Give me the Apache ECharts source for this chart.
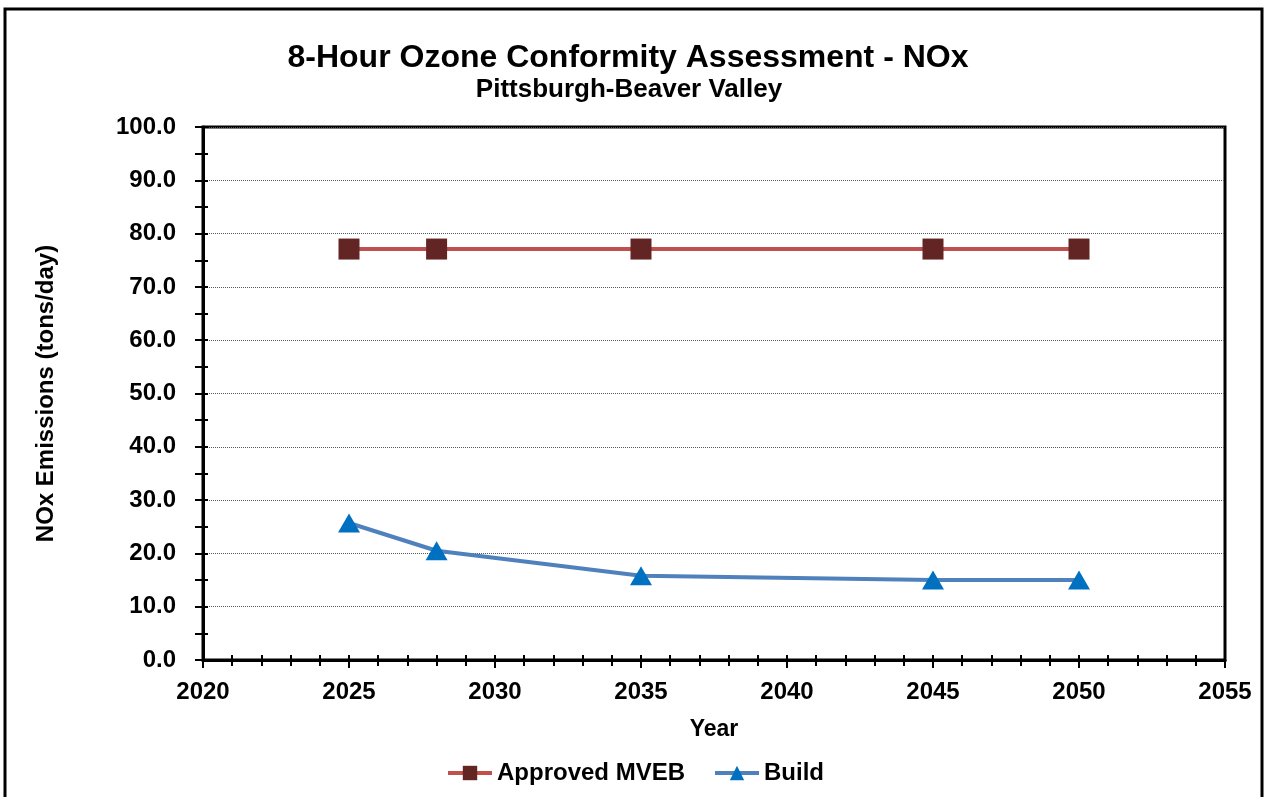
<!DOCTYPE html>
<html><head><meta charset="utf-8">
<script src="https://cdn.jsdelivr.net/npm/echarts@6/dist/echarts.min.js"></script>
<style>html,body{margin:0;padding:0;background:#fff}#c{width:1270px;height:797px}</style>
</head><body><div id="c"></div>
<script>
const years = [2025, 2028, 2035, 2045, 2050];
const mvebValues = [77.1, 77.1, 77.1, 77.1, 77.1];
const buildValues = [25.7, 20.5, 15.8, 15.0, 15.0];
const seriesNames = ['Approved MVEB', 'Build'];
const titleText = '8-Hour Ozone Conformity Assessment - NOx';
const subtitleText = 'Pittsburgh-Beaver Valley';
const xName = 'Year';
const yName = 'NOx Emissions (tons/day)';

const font = 'Liberation Sans, Arial, sans-serif';
const chart = echarts.init(document.getElementById('c'));
const pair = (xs, ys) => xs.map((x, i) => [x, ys[i]]);
chart.setOption({
  animation: false,
  graphic: [{type: 'rect', shape: {x: 5, y: 9, width: 1257, height: 800}, style: {fill: 'none', stroke: '#000', lineWidth: 3}, z: 100}],
  title: [
    {text: titleText, left: 623, top: 37, textAlign: 'center', textStyle: {fontFamily: font, fontWeight: 'bold', fontSize: 32, color: '#000'}},
    {text: subtitleText, left: 624, top: 72, textAlign: 'center', textStyle: {fontFamily: font, fontWeight: 'bold', fontSize: 26, color: '#000'}}
  ],
  legend: {
    data: seriesNames, left: 'center', top: 756, itemWidth: 44, itemHeight: 18, itemGap: 28,
    lineStyle: {width: 4},
    textStyle: {fontFamily: font, fontWeight: 'bold', fontSize: 24, color: '#000'}
  },
  grid: {left: 203, right: 45, top: 127, bottom: 137, show: true, borderColor: '#000', borderWidth: 3, backgroundColor: 'transparent'},
  xAxis: [{
    type: 'value', min: 2020, max: 2055, interval: 5,
    name: xName, nameLocation: 'middle', nameGap: 58,
    nameTextStyle: {fontFamily: font, fontWeight: 'bold', fontSize: 23, color: '#000'},
    axisLine: {show: true, lineStyle: {color: '#000', width: 3}},
    axisTick: {show: true, length: 8, lineStyle: {color: '#000', width: 2}},
    minorTick: {show: true, splitNumber: 5, length: 6, lineStyle: {color: '#000', width: 2}},
    axisLabel: {fontFamily: font, fontWeight: 'bold', fontSize: 24, color: '#000', margin: 20, formatter: v => String(v)},
    splitLine: {show: false}
  }, {
    type: 'value', min: 2020, max: 2055, interval: 5, position: 'bottom',
    axisLine: {show: false}, axisLabel: {show: false}, splitLine: {show: false},
    axisTick: {show: true, inside: true, length: 5, lineStyle: {color: '#000', width: 2}},
    minorTick: {show: true, splitNumber: 5, length: 5, lineStyle: {color: '#000', width: 2}}
  }],
  yAxis: [{
    type: 'value', min: 0, max: 100, interval: 10,
    name: yName, nameLocation: 'middle', nameGap: 145, nameRotate: 90,
    nameTextStyle: {fontFamily: font, fontWeight: 'bold', fontSize: 24, color: '#000'},
    axisLine: {show: true, lineStyle: {color: '#000', width: 3}},
    axisTick: {show: true, length: 8, lineStyle: {color: '#000', width: 2}},
    minorTick: {show: true, splitNumber: 2, length: 8, lineStyle: {color: '#000', width: 2}},
    axisLabel: {fontFamily: font, fontWeight: 'bold', fontSize: 24, color: '#000', margin: 27, formatter: v => v.toFixed(1)},
    splitLine: {show: true, lineStyle: {color: '#555', width: 1, type: [1, 1]}}
  }, {
    type: 'value', min: 0, max: 100, interval: 10, position: 'left',
    axisLine: {show: false}, axisLabel: {show: false}, splitLine: {show: false},
    axisTick: {show: true, inside: true, length: 5, lineStyle: {color: '#000', width: 2}},
    minorTick: {show: true, splitNumber: 2, length: 5, lineStyle: {color: '#000', width: 2}}
  }],
  series: [{
    name: seriesNames[0], type: 'line', data: pair(years, mvebValues),
    symbol: 'rect', symbolSize: 21, lineStyle: {color: '#C0504D', width: 4},
    itemStyle: {color: '#632523'}, z: 3
  }, {
    name: seriesNames[1], type: 'line', data: pair(years, buildValues),
    symbol: 'triangle', symbolSize: [22, 19], lineStyle: {color: '#4F81BD', width: 4},
    itemStyle: {color: '#0070C0'}, z: 3
  }]
});
</script></body></html>
